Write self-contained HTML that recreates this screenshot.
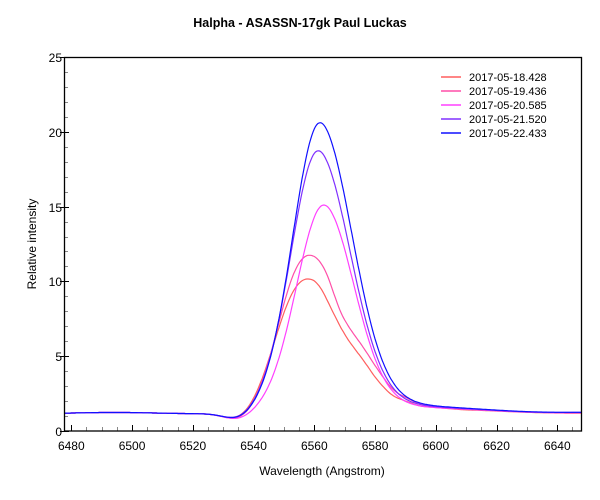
<!DOCTYPE html>
<html><head><meta charset="utf-8"><style>
body{margin:0;background:#fff;}
svg{display:block;font-family:"Liberation Sans",Arial,sans-serif;}
</style></head><body>
<svg id="s" width="600" height="500" viewBox="0 0 600 500">
<rect width="600" height="500" fill="#fff"/>
<text x="300" y="27" text-anchor="middle" font-size="12.5" font-weight="bold">Halpha - ASASSN-17gk   Paul Luckas</text>
<g id="ticks" stroke-width="1"></g>
<g font-size="12" fill="#000">
<text x="62" y="436" text-anchor="end">0</text>
<text x="62" y="361" text-anchor="end">5</text>
<text x="62" y="286" text-anchor="end">10</text>
<text x="62" y="212" text-anchor="end">15</text>
<text x="62" y="137" text-anchor="end">20</text>
<text x="62" y="62" text-anchor="end">25</text>
<g id="xl"></g>
<text x="322" y="475" text-anchor="middle">Wavelength (Angstrom)</text>
<text transform="translate(36,244) rotate(-90)" text-anchor="middle">Relative intensity</text>
</g>
<g id="curves" fill="none" stroke-width="1.2"></g>
<rect x="64.5" y="57.5" width="517" height="373.5" fill="none" stroke="#000" stroke-width="1.3"/>
<g font-size="11">
<line x1="441" y1="77" x2="461" y2="77" stroke="#ff5f5f" stroke-width="1.5"/><text x="469" y="81">2017-05-18.428</text>
<line x1="441" y1="91" x2="461" y2="91" stroke="#ff4fa8" stroke-width="1.5"/><text x="469" y="95">2017-05-19.436</text>
<line x1="441" y1="105" x2="461" y2="105" stroke="#ff40ff" stroke-width="1.5"/><text x="469" y="109">2017-05-20.585</text>
<line x1="441" y1="119" x2="461" y2="119" stroke="#8030ff" stroke-width="1.5"/><text x="469" y="123">2017-05-21.520</text>
<line x1="441" y1="133" x2="461" y2="133" stroke="#1010ff" stroke-width="1.5"/><text x="469" y="137">2017-05-22.433</text>
</g>
</svg>
<script>
var NS="http://www.w3.org/2000/svg";
function X(w){return 71.3+(w-6480)*3.0375;}
function Y(v){return 431-v*14.96;}
var t=document.getElementById("ticks"),xl=document.getElementById("xl");
function ln(x1,y1,x2,y2,c){var l=document.createElementNS(NS,"line");l.setAttribute("x1",x1);l.setAttribute("y1",y1);l.setAttribute("x2",x2);l.setAttribute("y2",y2);l.setAttribute("stroke",c);t.appendChild(l);}
for(var w=6480;w<=6646;w+=5){var x=Math.round(X(w))+0.5;var m=w%20==0;ln(x,431,x,m?425:427,m?"#000":"#888");
 if(m){var tx=document.createElementNS(NS,"text");tx.setAttribute("x",X(w));tx.setAttribute("y",450);tx.setAttribute("text-anchor","middle");tx.textContent=w;xl.appendChild(tx);}}
for(var v=0;v<=25;v+=1){var y=Math.round(Y(v))+0.5;var m=v%5==0;ln(m?60:64,y,m?69:68,y,m?"#000":"#888");}
function interp(tab,d){var xs=[],ys=[];for(var i=0;i<tab.length;i+=2){xs.push(tab[i]);ys.push(tab[i+1]);}
 if(d>=xs[xs.length-1])return ys[ys.length-1];
 for(var k=1;k<xs.length;k++){if(d<=xs[k]){var f=(d-xs[k-1])/(xs[k]-xs[k-1]);return ys[k-1]+(ys[k]-ys[k-1])*f;}}}
var redT=[0,1,3,0.96,6,0.82,10.9,0.6,14,0.5,17.5,0.4,22,0.25,27,0.13,36,0.05,50,0.02,90,0];
var pinkT=[0,1,3,0.96,6,0.84,8.8,0.66,12,0.55,17,0.42,22,0.27,27,0.14,36,0.05,50,0.02,90,0];
var C=[["#ff5f5f",9.0,6558.6,14,redT,2.5],["#ff4fa8",10.6,6559.1,13.5,pinkT,2.5],["#ff40ff",14.05,6563.2,12.7,9.8,2],["#8030ff",17.7,6561.3,12.6,10.5,2],["#1010ff",19.6,6561.9,12.6,10.5,2]];
var cg=document.getElementById("curves");
C.forEach(function(c,i){var ws=[],vs=[];for(var w=6477.6;w<=6648;w+=0.4){
 var b=1.2+0.04*Math.sin((w-6480)/9)-0.45*Math.exp(-Math.pow(w-6535,2)/(2*20));
 var dd=w-c[2],p;
 if(dd<0)p=Math.exp(-Math.pow(-dd/c[3],c[5]));
 else if(typeof c[4]=="object")p=interp(c[4],dd);
 else p=0.9*Math.exp(-dd*dd/(2*c[4]*c[4]))+0.1*Math.exp(-dd/25);
 ws.push(w);vs.push(b+c[1]*p);}
 var sm=[];for(var k=0;k<vs.length;k++){var s=0,n=0;for(var j=-5;j<=5;j++){var q=k+j;if(q>=0&&q<vs.length){s+=vs[q];n++;}}sm.push(s/n);}
 var d="";for(var k=0;k<ws.length;k++)d+=(d?"L":"M")+X(ws[k]).toFixed(1)+","+Y(sm[k]).toFixed(1);
 var p=document.createElementNS(NS,"path");p.setAttribute("d",d);p.setAttribute("stroke",c[0]);cg.appendChild(p);});
</script>
</body></html>
